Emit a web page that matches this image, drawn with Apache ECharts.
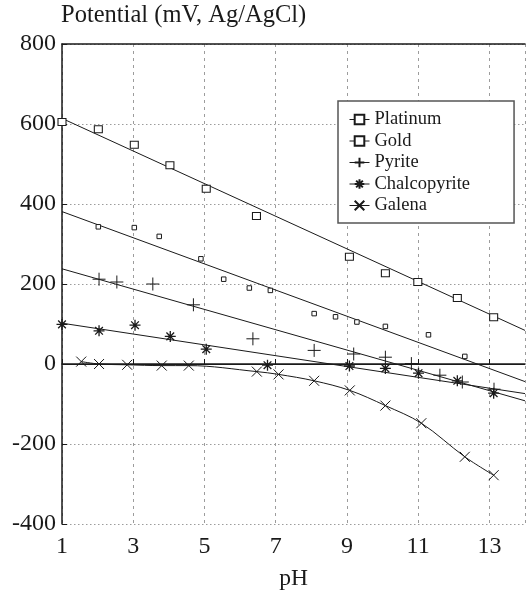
<!DOCTYPE html>
<html>
<head>
<meta charset="utf-8">
<script src="https://cdn.jsdelivr.net/npm/echarts@6/dist/echarts.min.js"></script>
<style>
  html, body { margin: 0; padding: 0; background: #fff; }
  #chart { width: 527px; height: 592px; }
</style>
</head>
<body>
<div id="chart"></div>
<script>
// measured points, pH vs potential (mV, Ag/AgCl)
const platinumPH = [1, 2.02, 3.03, 4.03, 5.05, 6.46, 9.07, 10.08, 10.99, 12.1, 13.12];
const platinumMV = [605, 587, 548, 497, 438, 370, 268, 227, 205, 165, 117];

const goldPH = [2.02, 3.03, 3.73, 4.9, 5.54, 6.26, 6.85, 8.08, 8.68, 9.28, 10.08, 11.29, 12.31];
const goldMV = [343, 341, 319, 263, 212, 190, 184, 126, 118, 105, 94, 73, 19];

const pyritePH = [2.04, 2.54, 3.55, 4.69, 6.36, 8.08, 9.19, 10.08, 10.81, 11.61, 12.24, 13.13];
const pyriteMV = [212, 205, 200, 148, 63, 34, 25, 17, 1, -28, -45, -63];

const chalcoPH = [1, 2.04, 3.05, 4.04, 5.05, 6.77, 9.07, 10.08, 11.01, 12.1, 13.12];
const chalcoMV = [99, 83, 97, 69, 37, -3, -5, -11, -23, -42, -73];

const galenaPH = [1.54, 2.04, 2.83, 3.8, 4.56, 6.47, 7.08, 8.08, 9.08, 10.08, 11.09, 12.31, 13.12];
const galenaMV = [6, 0, -2, -4, -4, -19, -26, -42, -66, -104, -148, -232, -278];

// fitted straight lines, value at pH 1 and pH 14
const fitPH = [1, 14];
const platinumFit = [614, 84];
const goldFit = [381, -44];
const pyriteFit = [238, -92];
const chalcoFit = [102, -74];

const names = ['Platinum', 'Gold', 'Pyrite', 'Chalcopyrite', 'Galena'];

const FONT = 'Liberation Serif';
const INK = '#1a1a1a';

const zip = (xs, ys) => xs.map((x, i) => [x, ys[i]]);

const plusPath = 'path://M0 5L10 5M5 0L5 10';
const crossPath = 'path://M0 0L10 10M10 0L0 10';
const starPath = 'path://M0 5L10 5M5 0L5 10M1.5 1.5L8.5 8.5M8.5 1.5L1.5 8.5';

function markerSeries(name, xs, ys, symbol, size, fill, extra) {
  return Object.assign({
    name: name,
    type: 'line',
    data: zip(xs, ys),
    symbol: symbol,
    symbolSize: size,
    showAllSymbol: true,
    itemStyle: { color: fill, borderColor: INK, borderWidth: 1 },
    lineStyle: { opacity: 0 },
    z: 5,
  }, extra || {});
}

function fitSeries(name, ys) {
  return {
    name: name + ' fit',
    type: 'line',
    data: zip(fitPH, ys),
    symbol: 'none',
    lineStyle: { color: INK, width: 1 },
    z: 3,
  };
}

const chart = echarts.init(document.getElementById('chart'));

chart.setOption({
  animation: false,
  backgroundColor: '#fff',
  title: {
    text: 'Potential (mV, Ag/AgCl)',
    left: 61,
    top: 3,
    padding: 0,
    textStyle: { fontFamily: FONT, fontSize: 24.5, fontWeight: 'normal', color: INK },
  },
  grid: { left: 62, right: 2, top: 44, bottom: 68, outerBoundsMode: 'none' },
  legend: {
    data: names,
    orient: 'vertical',
    left: 338,
    top: 101,
    padding: [9, 44, 8, 11],
    itemWidth: 20,
    itemHeight: 12,
    itemGap: 2.5,
    backgroundColor: '#fff',
    borderColor: '#555',
    borderWidth: 1.5,
    lineStyle: { opacity: 1, color: INK, width: 1 },
    textStyle: { fontFamily: FONT, fontSize: 18.5, color: INK },
  },
  xAxis: [
    {
      type: 'value',
      min: 1,
      max: 14,
      interval: 2,
      name: 'pH',
      nameLocation: 'middle',
      nameGap: 43,
      nameTextStyle: { fontFamily: FONT, fontSize: 23.5, color: INK },
      axisLine: { lineStyle: { color: INK, width: 1.5 } },
      axisTick: { inside: true, length: 5, lineStyle: { color: INK } },
      axisLabel: { fontFamily: FONT, fontSize: 24, color: INK, margin: 11, showMaxLabel: false },
      splitLine: { show: true, lineStyle: { color: '#9c9c9c', type: [3, 4], width: 1 } },
    },
    {
      type: 'value',
      position: 'top',
      min: 1,
      max: 14,
      axisLine: { show: true, lineStyle: { color: INK, width: 1.5 } },
      axisTick: { show: false },
      axisLabel: { show: false },
      splitLine: { show: false },
    },
  ],
  yAxis: {
    type: 'value',
    min: -400,
    max: 800,
    interval: 200,
    axisLine: { show: true, lineStyle: { color: INK, width: 1.5 } },
    axisTick: { show: true, inside: true, length: 5, lineStyle: { color: INK } },
    axisLabel: { fontFamily: FONT, fontSize: 24, color: INK, margin: 6 },
    splitLine: { show: true, lineStyle: { color: '#9c9c9c', type: [1.5, 2.5], width: 1 } },
  },
  series: [
    Object.assign(fitSeries('Platinum', platinumFit), {
      markLine: {
        silent: true,
        symbol: 'none',
        label: { show: false },
        lineStyle: { color: INK, width: 1, type: 'solid' },
        data: [{ yAxis: 0 }],
      },
    }),
    fitSeries('Gold', goldFit),
    fitSeries('Pyrite', pyriteFit),
    fitSeries('Chalcopyrite', chalcoFit),
    markerSeries('Platinum', platinumPH, platinumMV, 'rect', [8, 7], '#fff'),
    markerSeries('Gold', goldPH, goldMV, 'rect', 4.5, '#fff'),
    markerSeries('Pyrite', pyritePH, pyriteMV, plusPath, 13, 'rgba(0,0,0,0)'),
    markerSeries('Chalcopyrite', chalcoPH, chalcoMV, starPath, 11, 'rgba(0,0,0,0)', {
      itemStyle: { color: 'rgba(0,0,0,0)', borderColor: INK, borderWidth: 1.3 },
    }),
    markerSeries('Galena', galenaPH, galenaMV, crossPath, 10, 'rgba(0,0,0,0)', {
      smooth: 0.35,
      lineStyle: { color: INK, width: 1 },
    }),
  ],
});

window.addEventListener('resize', () => chart.resize());
</script>
</body>
</html>
